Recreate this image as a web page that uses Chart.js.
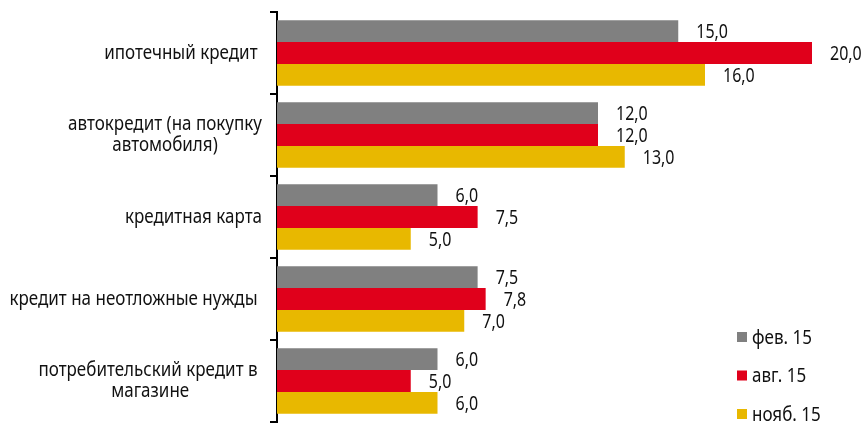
<!DOCTYPE html>
<html>
<head>
<meta charset="utf-8">
<script src="https://cdn.jsdelivr.net/npm/chart.js@4"></script>
<style>
  html, body { margin: 0; padding: 0; background: #fff; }
  #wrap { width: 863px; height: 425px; position: relative; }
</style>
</head>
<body>
<div id="wrap"><canvas id="chart"></canvas></div>
<script>
const categories = [
  ["ипотечный кредит "],
  ["автокредит (на покупку", "автомобиля)"],
  ["кредитная карта"],
  ["кредит на неотложные нужды "],
  ["потребительский кредит в ", "магазине"]
];
const seriesNames = ["фев. 15", "авг. 15", "нояб. 15"];
const feb15 = [15.0, 12.0, 6.0, 7.5, 6.0];
const aug15 = [20.0, 12.0, 7.5, 7.8, 5.0];
const nov15 = [16.0, 13.0, 5.0, 7.0, 6.0];
const colors = ["#808080", "#e0001b", "#e8b800"];

const FONT = '20px "Noto Sans", "Open Sans", sans-serif';
const fmt = (v) => v.toFixed(1).replace(".", ",");

// the reference uses a narrow face, so squeeze the text horizontally
function text(ctx, s, x, y, align, sx) {
  ctx.save();
  ctx.translate(x, y);
  ctx.scale(sx, 1);
  ctx.textAlign = align;
  ctx.fillText(s, 0, 0);
  ctx.restore();
}

// value labels after each bar
const valueLabels = {
  id: "valueLabels",
  afterDatasetsDraw(chart) {
    const { ctx } = chart;
    ctx.save();
    ctx.font = FONT;
    ctx.fillStyle = "#111";
    ctx.textBaseline = "middle";
    chart.data.datasets.forEach((ds, di) => {
      chart.getDatasetMeta(di).data.forEach((bar, i) => {
        text(ctx, fmt(ds.data[i]), bar.x + 18, bar.y + 1, "left", 0.8);
      });
    });
    ctx.restore();
  }
};

// category labels: block right-aligned, lines centered inside it
const catLabels = {
  id: "catLabels",
  afterDraw(chart) {
    const { ctx, chartArea } = chart;
    const yScale = chart.scales.y;
    const right = chartArea.left - 15;
    const lh = 21;
    const sx = 0.85;
    ctx.save();
    ctx.font = FONT;
    ctx.fillStyle = "#111";
    ctx.textBaseline = "middle";
    categories.forEach((lines, i) => {
      const w = Math.max(...lines.map((l) => ctx.measureText(l).width)) * sx;
      const cx = right - w / 2;
      const cy = yScale.getPixelForValue(i);
      const y0 = cy - (lines.length - 1) * lh / 2;
      lines.forEach((l, k) => text(ctx, l, cx, y0 + k * lh, "center", sx));
    });
    ctx.restore();
  }
};

// legend bottom-right
const sideLegend = {
  id: "sideLegend",
  afterDraw(chart) {
    const { ctx, chartArea } = chart;
    ctx.save();
    ctx.font = FONT;
    ctx.textBaseline = "middle";
    chart.data.datasets.forEach((ds, i) => {
      const x = chartArea.right - 75;
      const y = chartArea.bottom - 85 + i * 38.5;
      ctx.fillStyle = ds.backgroundColor;
      ctx.fillRect(x, y - 5, 10, 10);
      ctx.fillStyle = "#111";
      text(ctx, ds.label, x + 15, y + 1, "left", 0.85);
    });
    ctx.restore();
  }
};

new Chart(document.getElementById("chart"), {
  type: "bar",
  data: {
    labels: categories,
    datasets: [
      { label: seriesNames[0], data: feb15, backgroundColor: colors[0] },
      { label: seriesNames[1], data: aug15, backgroundColor: colors[1] },
      { label: seriesNames[2], data: nov15, backgroundColor: colors[2] }
    ]
  },
  options: {
    indexAxis: "y",
    responsive: true,
    maintainAspectRatio: false,
    animation: false,
    layout: { padding: { left: 270, right: 51, top: 12, bottom: 3 } },
    datasets: { bar: { categoryPercentage: 0.8, barPercentage: 1.0 } },
    plugins: { legend: { display: false }, tooltip: { enabled: false } },
    scales: {
      x: { display: false, min: 0, max: 20 },
      y: {
        grid: { drawOnChartArea: false, tickLength: 7, color: "#000", lineWidth: 2, offset: true },
        border: { display: true, color: "#000", width: 2 },
        ticks: { display: false }
      }
    }
  },
  plugins: [valueLabels, catLabels, sideLegend]
});
</script>
</body>
</html>
